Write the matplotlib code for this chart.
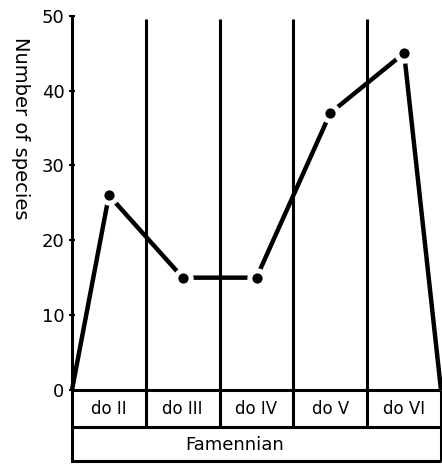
import matplotlib
matplotlib.use("Agg")
import matplotlib.pyplot as plt

# substages of the Famennian and species counts
stages = ["do II", "do III", "do IV", "do V", "do VI"]
species = [26, 15, 15, 37, 45]
stage = "Famennian"
yticks = [0, 10, 20, 30, 40, 50]

n = len(stages)
mids = [i + 0.5 for i in range(n)]

fig = plt.figure(figsize=(4.42, 4.67), dpi=100)
ax = fig.add_axes([72 / 442, 0, 369 / 442, 1])
ax.set_xlim(0, n)
ax.set_ylim(-10.3, 52.1)

# outline of the curve: starts and ends at zero at the stage boundaries
xs = [0] + mids + [n]
ys = [0] + species + [0]
ax.plot(xs, ys, color="black", lw=3.2, solid_capstyle="butt", zorder=3, clip_on=False)
ax.plot(mids, species, "o", color="black", ms=11, mec="white", mew=3.6, zorder=4)

lw = 2.2
# substage boundaries
ax.vlines(range(1, n), -5, 49.5, color="black", lw=lw)
# table below the plot
ax.hlines([0, -5, -9.5], 0, n, color="black", lw=lw, clip_on=False)
ax.vlines([n], -9.5, 0, color="black", lw=lw, clip_on=False)

for m, s in zip(mids, stages):
    ax.text(m, -2.6, s, ha="center", va="center", fontsize=12)
ax.text(2.2, -7.3, stage, ha="center", va="center", fontsize=13)

# left axis
for side in ["top", "right", "bottom"]:
    ax.spines[side].set_visible(False)
ax.spines["left"].set_bounds(-9.5, 50)
ax.spines["left"].set_linewidth(lw)
ax.set_xticks([])
ax.set_yticks(yticks)
ax.tick_params(axis="y", direction="inout", length=5, width=1.5, labelsize=13, pad=3)

fig.text(20 / 442, 1 - 128 / 467, "Number of species", rotation=270,
         ha="center", va="center", fontsize=14)

fig.savefig("out.png", dpi=100)
